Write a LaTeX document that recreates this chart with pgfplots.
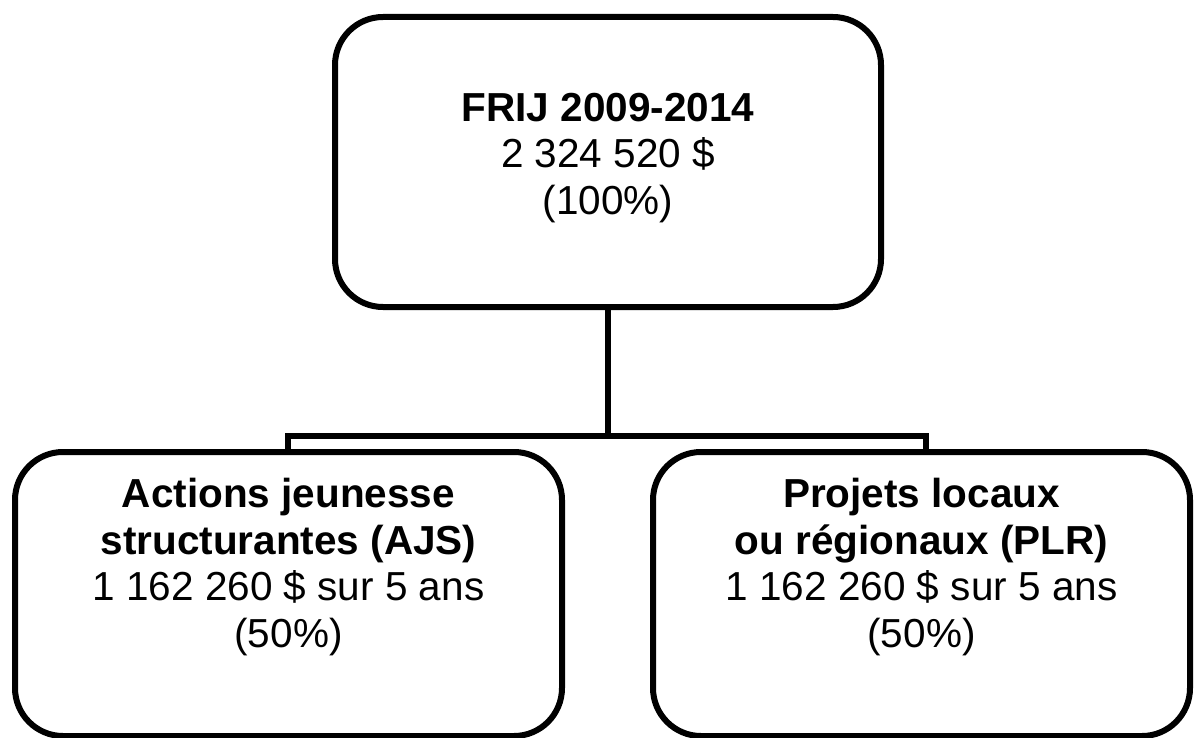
\documentclass[border=0pt]{standalone}
\usepackage{fontspec}
\setmainfont{Liberation Sans}
\usepackage{pgfplots}
\pgfplotsset{compat=1.18}
\begin{document}
\begin{tikzpicture}
\begin{axis}[
  width=597pt, height=369pt, scale only axis,
  xmin=0, xmax=1194, ymin=0, ymax=738, y dir=reverse,
  hide axis, clip=false,
]
\addplot[draw=none] coordinates {(0,0) (1194,738)};
% boxes
\draw[line width=3pt, rounded corners=24pt] (axis cs:335,17) rectangle (axis cs:881,307);
\draw[line width=3pt, rounded corners=24pt] (axis cs:15,452) rectangle (axis cs:562,736);
\draw[line width=3pt, rounded corners=24pt] (axis cs:653,452) rectangle (axis cs:1190,736);
% connectors
\draw[line width=3pt] (axis cs:608,307) -- (axis cs:608,436);
\draw[line width=3pt, line join=miter] (axis cs:288,452) -- (axis cs:288,436) -- (axis cs:926,436) -- (axis cs:926,452);
% texts
\begingroup
\fontsize{20.25}{23.25}\selectfont
\node[anchor=base, inner sep=0pt] at (axis cs:608,122) {\fontsize{20.25}{23.25}\selectfont\bfseries FRIJ 2009-2014};
\node[anchor=base, inner sep=0pt] at (axis cs:608,168) {\fontsize{20.25}{23.25}\selectfont 2 324 520 \$};
\node[anchor=base, inner sep=0pt] at (axis cs:608,214) {\fontsize{20.25}{23.25}\selectfont (100\%)};
\node[anchor=base, inner sep=0pt] at (axis cs:288.5,507) {\fontsize{20.25}{23.25}\selectfont\bfseries Actions jeunesse};
\node[anchor=base, inner sep=0pt] at (axis cs:288.5,554) {\fontsize{20.25}{23.25}\selectfont\bfseries structurantes (AJS)};
\node[anchor=base, inner sep=0pt] at (axis cs:288.5,600) {\fontsize{20.25}{23.25}\selectfont 1 162 260 \$ sur 5 ans};
\node[anchor=base, inner sep=0pt] at (axis cs:288.5,647) {\fontsize{20.25}{23.25}\selectfont (50\%)};
\node[anchor=base, inner sep=0pt] at (axis cs:921.5,507) {\fontsize{20.25}{23.25}\selectfont\bfseries Projets locaux};
\node[anchor=base, inner sep=0pt] at (axis cs:921.5,554) {\fontsize{20.25}{23.25}\selectfont\bfseries ou régionaux (PLR)};
\node[anchor=base, inner sep=0pt] at (axis cs:921.5,600) {\fontsize{20.25}{23.25}\selectfont 1 162 260 \$ sur 5 ans};
\node[anchor=base, inner sep=0pt] at (axis cs:921.5,647) {\fontsize{20.25}{23.25}\selectfont (50\%)};
\endgroup
\end{axis}
\pgfresetboundingbox
\path (current axis.south west) rectangle (current axis.north east);
\end{tikzpicture}
\end{document}
